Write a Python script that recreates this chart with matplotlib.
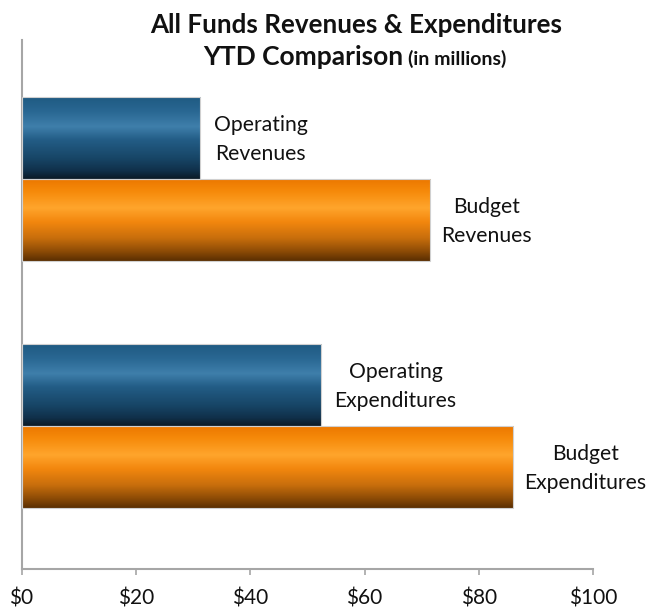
import numpy as np
import matplotlib
matplotlib.use("Agg")
import matplotlib.pyplot as plt
from matplotlib.colors import LinearSegmentedColormap

# Data (in millions of dollars)
groups = ["Revenues", "Expenditures"]
operating = [31.2, 52.3]
budget = [71.5, 86.0]
operating_labels = ["Operating\nRevenues", "Operating\nExpenditures"]
budget_labels = ["Budget\nRevenues", "Budget\nExpenditures"]
x_ticks = [0, 20, 40, 60, 80, 100]
x_tick_labels = ["$0", "$20", "$40", "$60", "$80", "$100"]

FONT = "Lato"
plt.rcParams["font.family"] = [FONT, "DejaVu Sans"]

# Cylinder-style shading, top to bottom of each bar
blue_cmap = LinearSegmentedColormap.from_list(
    "blue_tube",
    [(0.0, "#1f5a82"), (0.18, "#2a6893"), (0.36, "#3f7fab"), (0.52, "#235d86"),
     (0.75, "#174566"), (0.9, "#10304a"), (1.0, "#0b1a26")])
orange_cmap = LinearSegmentedColormap.from_list(
    "orange_tube",
    [(0.0, "#ec7800"), (0.15, "#f68a0a"), (0.35, "#ffa52c"), (0.52, "#f3870e"),
     (0.72, "#c86e0c"), (0.88, "#8e4c06"), (1.0, "#5a2f02")])

fig = plt.figure(figsize=(6.52, 6.12), dpi=100)
ax = fig.add_axes([0.033, 0.0703, 0.877, 0.8643])

bar_h = 0.332
pos = np.arange(len(groups))
op_bars = ax.barh(pos - bar_h / 2, operating, height=bar_h, facecolor="none",
                  edgecolor="#d0d0d0", linewidth=0.8, zorder=3)
bud_bars = ax.barh(pos + bar_h / 2, budget, height=bar_h, facecolor="none",
                   edgecolor="#d0d0d0", linewidth=0.8, zorder=3)

grad = np.linspace(0, 1, 256).reshape(-1, 1)
for bars, cmap in ((op_bars, blue_cmap), (bud_bars, orange_cmap)):
    for p in bars:
        x0, y0 = p.get_x(), p.get_y()
        w, h = p.get_width(), p.get_height()
        # y axis is inverted, so extent top maps to the smaller y value
        ax.imshow(grad, cmap=cmap, aspect="auto", interpolation="bicubic",
                  extent=(x0, x0 + w, y0 + h, y0), zorder=2)

label_kw = dict(textcoords="offset points", ha="left", va="center",
                multialignment="center", fontsize=15.2, color="#111111",
                linespacing=1.55, family=[FONT, "DejaVu Sans"])
for i in range(len(groups)):
    ax.annotate(operating_labels[i], xy=(operating[i], pos[i] - bar_h / 2),
                xytext=(10, -1), **label_kw)
    ax.annotate(budget_labels[i], xy=(budget[i], pos[i] + bar_h / 2),
                xytext=(8, -1), **label_kw)

ax.set_xlim(0, 100)
ax.set_ylim(1.579, -0.563)
ax.set_xticks(x_ticks)
ax.set_xticklabels(x_tick_labels, fontsize=15, color="#111111")
ax.set_yticks([])
ax.tick_params(axis="x", direction="out", length=4, width=1.2,
               color="#a6a6a6", pad=10)
for s in ("top", "right"):
    ax.spines[s].set_visible(False)
for s in ("left", "bottom"):
    ax.spines[s].set_color("#a6a6a6")
    ax.spines[s].set_linewidth(1.5)

# Title
fig.text(356 / 652, 1 - 33 / 612, "All Funds Revenues & Expenditures",
         ha="center", va="baseline", fontsize=18.7, fontweight="bold",
         color="#111111")
fig.text(403 / 652, 1 - 65 / 612, "YTD Comparison", ha="right",
         va="baseline", fontsize=19, fontweight="bold", color="#111111")
fig.text(408 / 652, 1 - 65 / 612, "(in millions)", ha="left",
         va="baseline", fontsize=14, fontweight="bold", color="#111111")

fig.savefig("out.png", dpi=100)
